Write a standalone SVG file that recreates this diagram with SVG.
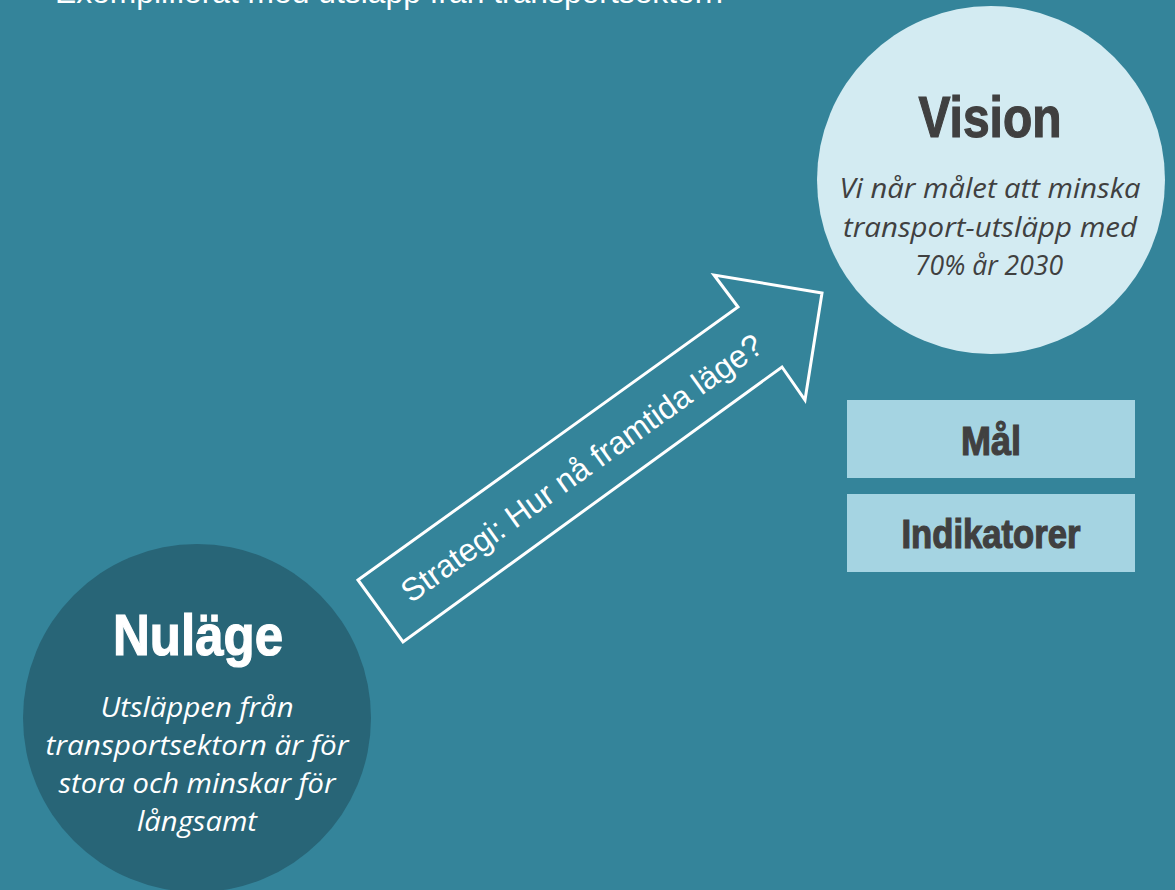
<svg xmlns="http://www.w3.org/2000/svg" width="1175" height="890" viewBox="0 0 1175 890">
<style>
.title{font-family:"Liberation Sans",Arial,sans-serif;font-weight:bold;stroke-width:1.2;}
.it{font-family:"Open Sans","Noto Sans",sans-serif;font-style:italic;font-size:28px;text-anchor:middle;}
.dark{fill:#404040;}
.white{fill:#ffffff;}
.title.dark{stroke:#404040;}
.title.white{stroke:#ffffff;}
.box{fill:#a5d4e2;}
</style>
<rect x="0" y="0" width="1175" height="890" fill="#34849a"/>
<text x="55" y="3" font-family="'Liberation Sans',Arial,sans-serif" font-size="32" fill="#ffffff" textLength="668" lengthAdjust="spacingAndGlyphs">Exemplifierat med utsläpp från transportsektorn</text>
<g id="node-nulage">
<circle cx="197" cy="718" r="174" fill="#286577"/>
<text class="title white" x="198" y="655" font-size="58" text-anchor="middle" textLength="170" lengthAdjust="spacingAndGlyphs">Nuläge</text>
<text class="it white" x="197" y="717" textLength="193" lengthAdjust="spacingAndGlyphs">Utsläppen från</text>
<text class="it white" x="197" y="755" textLength="303" lengthAdjust="spacingAndGlyphs">transportsektorn är för</text>
<text class="it white" x="197" y="793" textLength="277" lengthAdjust="spacingAndGlyphs">stora och minskar för</text>
<text class="it white" x="197" y="831" textLength="120" lengthAdjust="spacingAndGlyphs">långsamt</text>
</g>
<g id="node-vision">
<circle cx="991" cy="180" r="174" fill="#d3ebf2"/>
<text class="title dark" x="990" y="137" font-size="57" text-anchor="middle" textLength="143" lengthAdjust="spacingAndGlyphs">Vision</text>
<text class="it dark" x="990" y="198" textLength="301" lengthAdjust="spacingAndGlyphs">Vi når målet att minska</text>
<text class="it dark" x="990" y="237" textLength="294" lengthAdjust="spacingAndGlyphs">transport-utsläpp med</text>
<text class="it dark" x="989" y="275" textLength="148" lengthAdjust="spacingAndGlyphs">70% år 2030</text>
</g>
<g id="node-mal">
<rect class="box" x="847" y="400" width="288" height="78"/>
<text class="title dark" x="991" y="455" font-size="41" text-anchor="middle" textLength="60" lengthAdjust="spacingAndGlyphs">Mål</text>
</g>
<g id="node-indikatorer">
<rect class="box" x="847" y="494" width="288" height="78"/>
<text class="title dark" x="991" y="548" font-size="40" text-anchor="middle" textLength="179" lengthAdjust="spacingAndGlyphs">Indikatorer</text>
</g>
<g id="connectors">
<polygon points="358,580 738,307 714,275 822,293 805,400 782,367 403,642" fill="none" stroke="#ffffff" stroke-width="3" stroke-linejoin="miter"/>
<text x="588" y="477" transform="rotate(-35.6 588 477)" font-family="'Liberation Sans',Arial,sans-serif" font-size="32" fill="#ffffff" text-anchor="middle">Strategi: Hur nå framtida läge?</text>
</g>
</svg>
